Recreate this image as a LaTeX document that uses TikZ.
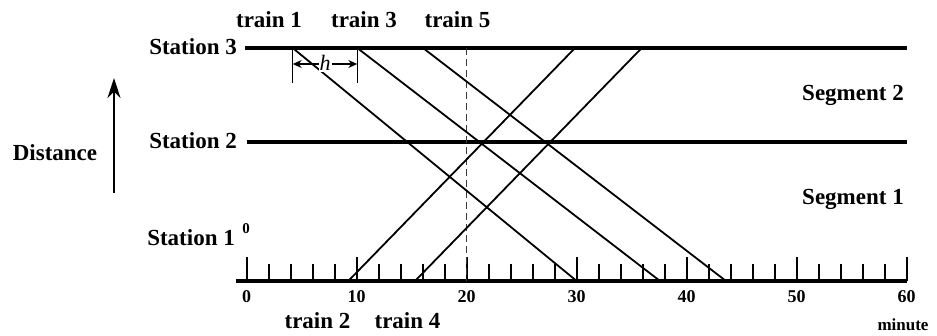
\documentclass[tikz,border=0pt]{standalone}
\usepackage{fontspec}
\setmainfont{Liberation Serif}
\usepackage{xcolor}
\usetikzlibrary{positioning,arrows.meta,calc}
\definecolor{mDashGray}{HTML}{3A3A3A}
\tikzset{
  stationline/.style={line width=4pt},
  trainline/.style={line width=1.8pt},
  bigtxt/.style={font=\bfseries\fontsize{23}{26}\selectfont},
  smalltxt/.style={font=\bfseries\fontsize{18}{20}\selectfont},
}
\begin{document}
\begin{tikzpicture}[x=1pt,y=-1pt]
\useasboundingbox (0,0) rectangle (937,335);
% stations
\coordinate (s3a) at (245,48);  \coordinate (s3b) at (907,48);
\coordinate (s2a) at (246.7,141.5); \coordinate (s2b) at (907,141.5);
\coordinate (axa) at (236,281); \coordinate (axb) at (907,281);
\draw[stationline] (s3a) -- (s3b);
\draw[stationline] (s2a) -- (s2b);
\draw[stationline] (axa) -- (axb);
\node[bigtxt, anchor=east, inner sep=0pt] (st3) at (237,47) {Station 3};
\node[bigtxt, anchor=east, inner sep=0pt] (st2) at (237,141) {Station 2};
\node[bigtxt, anchor=east, inner sep=0pt] (st1) at (235,238) {Station 1};
\node[bigtxt, font=\bfseries\fontsize{15}{17}\selectfont, inner sep=0pt] (zero) at (246,229) {0};
% time axis
\foreach \m in {0,2,...,60} {
  \pgfmathsetmacro{\tx}{246.7+11*\m}
  \pgfmathtruncatemacro{\ismaj}{mod(\m,10)==0}
  \ifnum\ismaj=1
    \draw[line width=1.8pt] (\tx,281) -- (\tx,257);
    \node[smalltxt] (t\m) at (\tx,297) {\m};
  \else
    \draw[line width=1.8pt] (\tx,281) -- (\tx,264);
  \fi
}
\node[font=\bfseries\fontsize{17}{19}\selectfont, inner sep=0pt] (unit) at (903,325) {minute};
% time 20 marker
\coordinate (d20a) at (466.7,48); \coordinate (d20b) at (466.7,281);
\draw[mDashGray, line width=1.4pt, dash pattern=on 7pt off 4pt] (d20a) -- (d20b);
% trains
\coordinate (tr1a) at (292.7,48);  \coordinate (tr1b) at (576.7,281);
\coordinate (tr3a) at (357.3,48);  \coordinate (tr3b) at (660,281);
\coordinate (tr5a) at (423,48);    \coordinate (tr5b) at (726,281);
\coordinate (tr2a) at (348.3,281); \coordinate (tr2b) at (575,48);
\coordinate (tr4a) at (415,281);   \coordinate (tr4b) at (641.7,48);
\foreach \t in {1,2,3,4,5} \draw[trainline] (tr\t a) -- (tr\t b);
\node[bigtxt] (lt1) at (269,20) {train 1};
\node[bigtxt] (lt3) at (364,20) {train 3};
\node[bigtxt] (lt5) at (457.5,20) {train 5};
\node[bigtxt] (lt2) at (317.5,321) {train 2};
\node[bigtxt] (lt4) at (407.5,321) {train 4};
% headway
\coordinate (ha) at (292.7,48); \coordinate (hb) at (357.3,48);
\draw[line width=1.2pt] (ha) -- ++(0,35);
\draw[line width=1.2pt] (hb) -- ++(0,35);
\draw[line width=1.2pt, {Stealth[length=9pt,width=8pt]}-{Stealth[length=9pt,width=8pt]}] ($(ha)+(0,16)$) -- ($(hb)+(0,16)$);
\node[fill=white, inner sep=1pt, font=\itshape\fontsize{22}{24}\selectfont] (hw) at (325,63) {h};
% segments
\node[bigtxt] (seg2) at (853,95) {Segment 2};
\node[bigtxt] (seg1) at (853,199) {Segment 1};
% distance
\coordinate (dista) at (114,193); \coordinate (distb) at (114,78);
\draw[line width=1.8pt, -{Stealth[length=20pt,width=13pt]}] (dista) -- (distb);
\node[bigtxt] (dist) at (55,153) {Distance};
\end{tikzpicture}
\end{document}
